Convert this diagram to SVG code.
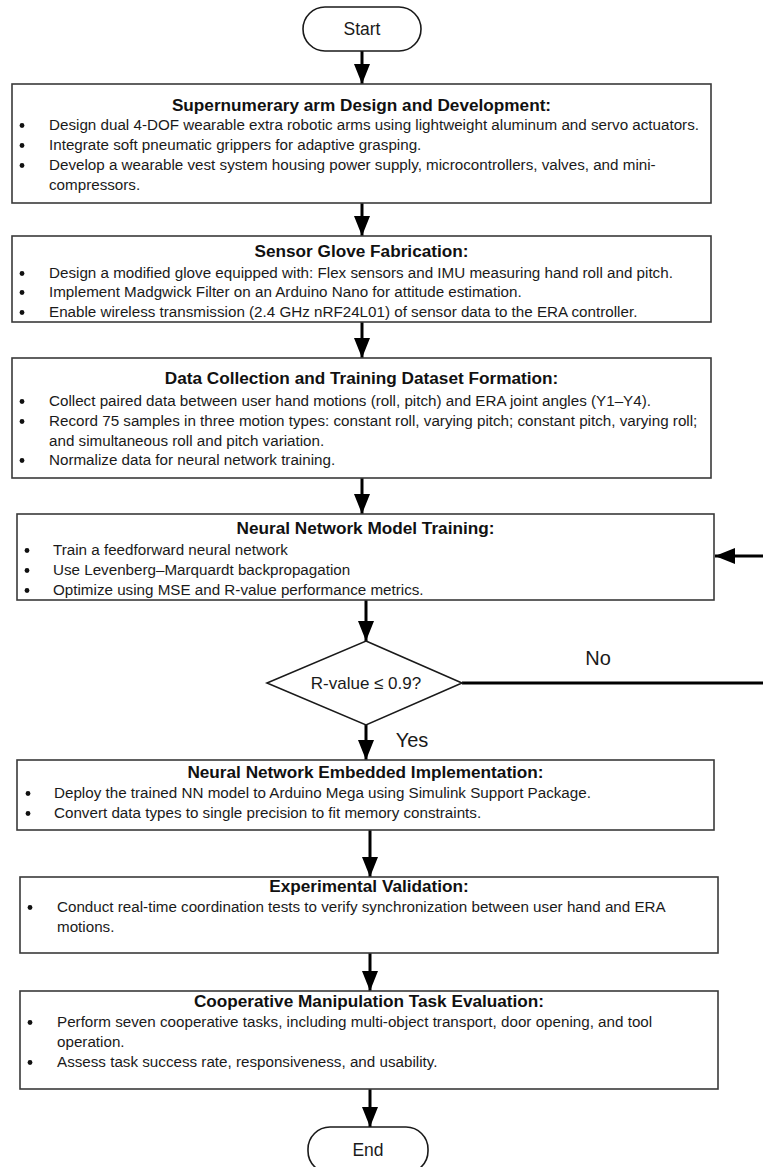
<svg xmlns="http://www.w3.org/2000/svg" width="763" height="1167" viewBox="0 0 763 1167">
<defs>
<style>
.box{fill:#fff;stroke:#3a3a3a;stroke-width:1.6}
.pill{fill:#fff;stroke:#1a1a1a;stroke-width:1.6}
.t{font-family:"Liberation Sans",Arial,sans-serif;font-size:15.2px;fill:#1a1a1a}
.h{font-family:"Liberation Sans",Arial,sans-serif;font-size:17.2px;font-weight:bold;fill:#111;text-anchor:middle}
.c{font-family:"Liberation Sans",Arial,sans-serif;font-size:17.5px;fill:#1a1a1a;text-anchor:middle}
.lbl{font-family:"Liberation Sans",Arial,sans-serif;font-size:20px;fill:#1a1a1a;text-anchor:middle}
.b{fill:#111}
.con{fill:none;stroke:#000;stroke-width:3}
</style>
<marker id="ah" markerUnits="userSpaceOnUse" markerWidth="20" markerHeight="20" viewBox="0 0 20 16" refX="20" refY="8" orient="auto">
<path d="M0,0 L20,8 L0,16 Z" fill="#000"/>
</marker>
</defs>

<g id="connectors">
<line class="con" x1="362" y1="51" x2="362" y2="84" marker-end="url(#ah)"/>
<line class="con" x1="362" y1="203" x2="362" y2="236" marker-end="url(#ah)"/>
<line class="con" x1="362" y1="322" x2="362" y2="358" marker-end="url(#ah)"/>
<line class="con" x1="362" y1="478" x2="362" y2="514" marker-end="url(#ah)"/>
<line class="con" x1="366" y1="600" x2="366" y2="641" marker-end="url(#ah)"/>
<line class="con" x1="366" y1="725" x2="366" y2="760" marker-end="url(#ah)"/>
<line class="con" x1="370" y1="830" x2="370" y2="877" marker-end="url(#ah)"/>
<line class="con" x1="370" y1="953" x2="370" y2="991" marker-end="url(#ah)"/>
<line class="con" x1="370" y1="1089" x2="370" y2="1127" marker-end="url(#ah)"/>
<path class="con" d="M462,683 H780 V556 H715" marker-end="url(#ah)"/>
<text class="lbl" x="598" y="665">No</text>
<text class="lbl" x="412" y="747">Yes</text>
</g>

<g id="start">
<rect class="pill" x="303" y="7" width="118" height="44" rx="22" ry="22"/>
<text class="c" x="362" y="35">Start</text>
</g>

<g id="arm-design">
<rect class="box" x="12" y="84" width="699" height="119"/>
<text class="h" x="361.5" y="111">Supernumerary arm Design and Development:</text>
<circle class="b" cx="22" cy="125.5" r="2.4"/>
<text class="t" x="49" y="130">Design dual 4-DOF wearable extra robotic arms using lightweight aluminum and servo actuators.</text>
<circle class="b" cx="22" cy="145.5" r="2.4"/>
<text class="t" x="49" y="150">Integrate soft pneumatic grippers for adaptive grasping.</text>
<circle class="b" cx="22" cy="165.5" r="2.4"/>
<text class="t" x="49" y="170">Develop a wearable vest system housing power supply, microcontrollers, valves, and mini-</text>
<text class="t" x="49" y="190">compressors.</text>
</g>

<g id="sensor-glove">
<rect class="box" x="12" y="236" width="699" height="86"/>
<text class="h" x="361.5" y="257">Sensor Glove Fabrication:</text>
<circle class="b" cx="22" cy="273.5" r="2.4"/>
<text class="t" x="49" y="278">Design a modified glove equipped with: Flex sensors and IMU measuring hand roll and pitch.</text>
<circle class="b" cx="22" cy="292.5" r="2.4"/>
<text class="t" x="49" y="297">Implement Madgwick Filter on an Arduino Nano for attitude estimation.</text>
<circle class="b" cx="22" cy="312.5" r="2.4"/>
<text class="t" x="49" y="317">Enable wireless transmission (2.4 GHz nRF24L01) of sensor data to the ERA controller.</text>
</g>

<g id="data-collection">
<rect class="box" x="12" y="358" width="699" height="120"/>
<text class="h" x="361.5" y="384">Data Collection and Training Dataset Formation:</text>
<circle class="b" cx="22" cy="401.5" r="2.4"/>
<text class="t" x="49" y="406">Collect paired data between user hand motions (roll, pitch) and ERA joint angles (Y1–Y4).</text>
<circle class="b" cx="22" cy="421.5" r="2.4"/>
<text class="t" x="49" y="426">Record 75 samples in three motion types: constant roll, varying pitch; constant pitch, varying roll;</text>
<text class="t" x="49" y="446">and simultaneous roll and pitch variation.</text>
<circle class="b" cx="22" cy="460.5" r="2.4"/>
<text class="t" x="49" y="465">Normalize data for neural network training.</text>
</g>

<g id="nn-training">
<rect class="box" x="17" y="514" width="697" height="86"/>
<text class="h" x="365.5" y="534">Neural Network Model Training:</text>
<circle class="b" cx="27" cy="550.5" r="2.4"/>
<text class="t" x="53" y="555">Train a feedforward neural network</text>
<circle class="b" cx="27" cy="570.5" r="2.4"/>
<text class="t" x="53" y="575">Use Levenberg–Marquardt backpropagation</text>
<circle class="b" cx="27" cy="590.5" r="2.4"/>
<text class="t" x="53" y="595">Optimize using MSE and R-value performance metrics.</text>
</g>

<g id="decision">
<polygon class="pill" points="366,641 462,683 366,725 267,683"/>
<text class="t" x="366" y="689" text-anchor="middle" style="font-size:17px">R-value ≤ 0.9?</text>
</g>

<g id="nn-embedded">
<rect class="box" x="17" y="760" width="697" height="70"/>
<text class="h" x="365.5" y="778">Neural Network Embedded Implementation:</text>
<circle class="b" cx="28" cy="793.5" r="2.4"/>
<text class="t" x="54" y="798">Deploy the trained NN model to Arduino Mega using Simulink Support Package.</text>
<circle class="b" cx="28" cy="813.5" r="2.4"/>
<text class="t" x="54" y="818">Convert data types to single precision to fit memory constraints.</text>
</g>

<g id="experimental">
<rect class="box" x="20" y="877" width="698" height="76"/>
<text class="h" x="369" y="892">Experimental Validation:</text>
<circle class="b" cx="30" cy="907.5" r="2.4"/>
<text class="t" x="57" y="912">Conduct real-time coordination tests to verify synchronization between user hand and ERA</text>
<text class="t" x="57" y="932">motions.</text>
</g>

<g id="cooperative">
<rect class="box" x="20" y="991" width="698" height="98"/>
<text class="h" x="369" y="1007">Cooperative Manipulation Task Evaluation:</text>
<circle class="b" cx="30" cy="1022.5" r="2.4"/>
<text class="t" x="57" y="1027">Perform seven cooperative tasks, including multi-object transport, door opening, and tool</text>
<text class="t" x="57" y="1047">operation.</text>
<circle class="b" cx="30" cy="1062.5" r="2.4"/>
<text class="t" x="57" y="1067">Assess task success rate, responsiveness, and usability.</text>
</g>

<g id="end">
<rect class="pill" x="308" y="1127" width="120" height="46" rx="22" ry="22"/>
<text class="c" x="368" y="1156">End</text>
</g>
</svg>
